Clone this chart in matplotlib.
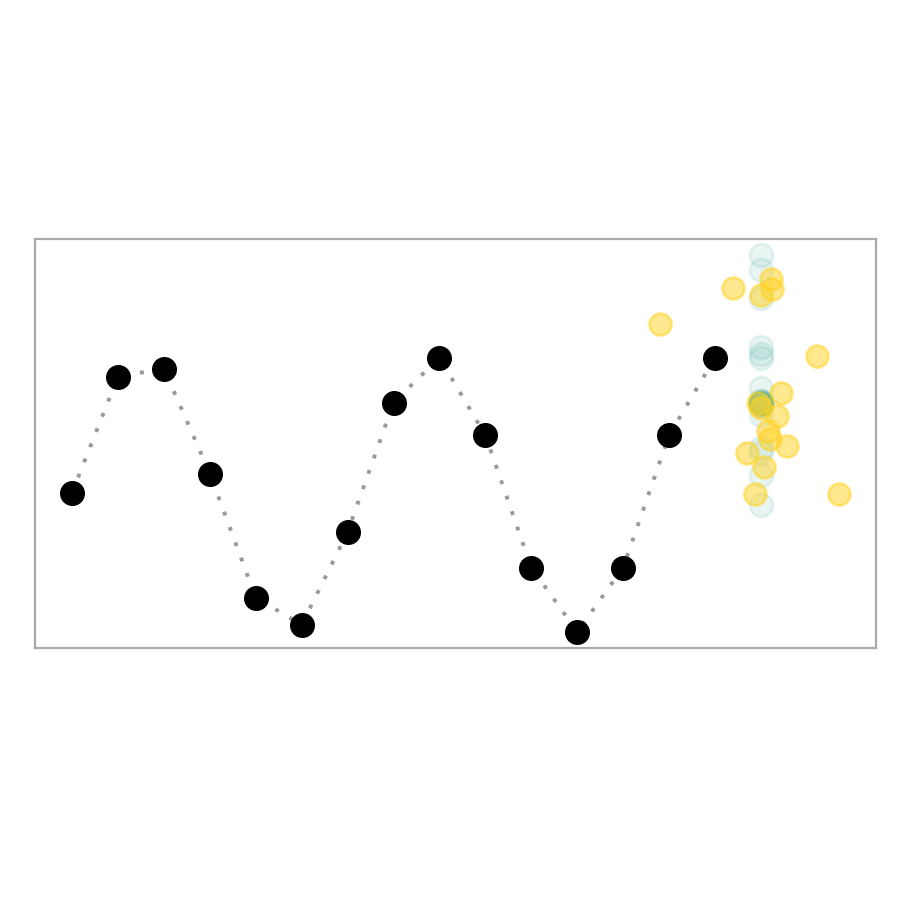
import matplotlib
matplotlib.use("Agg")
import matplotlib.pyplot as plt
import numpy as np

# observed series
obs_x = list(range(15))
obs_y = [-0.36, 0.49, 0.55, -0.22, -1.13, -1.33, -0.65, 0.30, 0.63, 0.06,
         -0.91, -1.38, -0.91, 0.06, 0.63]

# forecast samples at next step
sample_y = [1.38, 1.27, 1.07, 0.71, 0.66, 0.63, 0.41, 0.31, 0.30, 0.30,
            0.29, 0.30, 0.31, 0.29, 0.30, 0.28, 0.21, -0.03, -0.06, -0.23,
            -0.45]
sample_x = [15] * len(sample_y)

# jittered samples
jit_x = [15.22, 14.39, 15.24, 15.00, 12.80, 16.22, 15.44, 14.94, 15.00, 15.35,
         15.15, 15.20, 15.57, 14.70, 15.07, 14.87, 16.70]
jit_y = [1.21, 1.14, 1.13, 1.09, 0.88, 0.64, 0.37, 0.30, 0.26, 0.20,
         0.09, 0.03, -0.02, -0.07, -0.17, -0.37, -0.37]

fig = plt.figure(figsize=(9, 9), dpi=100)
ax = fig.add_axes([0.0389, 0.28, 0.9344, 0.4544])

ax.plot(obs_x, obs_y, color='#999999', lw=2.8, linestyle=(0, (1, 3.2)),
        zorder=1)
ax.plot(obs_x, obs_y, 'o', color='black', ms=17, zorder=3)

ax.scatter(sample_x, sample_y, s=280, color='#2a9d8f', alpha=0.1,
           linewidths=2, edgecolors='#2a9d8f', zorder=2)
ax.scatter(jit_x, jit_y, s=250, color='#FFD21F', alpha=0.5,
           linewidths=2, edgecolors='#FFD21F', zorder=4)

ax.set_xlim(-0.806, 17.505)
ax.set_ylim(-1.5, 1.5)
ax.set_xticks([])
ax.set_yticks([])
for s in ax.spines.values():
    s.set_color('#aaaaaa')
    s.set_linewidth(1.6)

fig.savefig('out.png', dpi=100)
